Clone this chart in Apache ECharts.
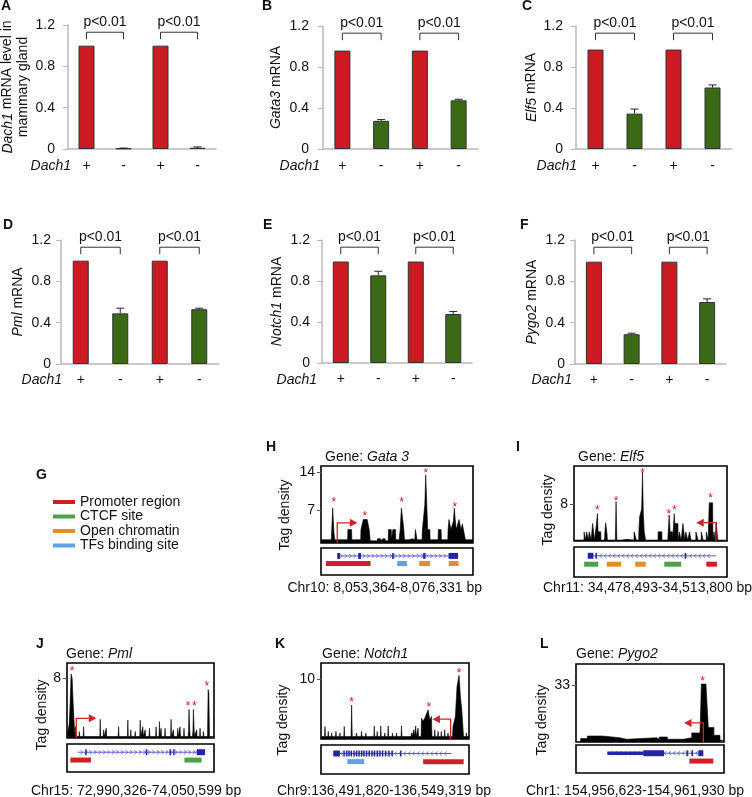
<!DOCTYPE html>
<html><head><meta charset="utf-8">
<script src="https://cdn.jsdelivr.net/npm/echarts@6/dist/echarts.min.js"></script>
<style>html,body{margin:0;padding:0;background:#fff}#c{width:752px;height:797px}</style>
</head><body><div id="c"></div>
<script>
// ---------------- DATA ----------------
const dachGroups = ['+', '-', '+', '-'];
const dach1Mrna = [1.0, 0.006, 1.0, 0.012];
const dach1Err = [0, 0.003, 0, 0.008];
const gata3Mrna = [0.96, 0.275, 0.96, 0.475];
const gata3Err = [0, 0.012, 0, 0.01];
const elf5Mrna = [0.97, 0.345, 0.97, 0.60];
const elf5Err = [0, 0.045, 0, 0.025];
const pmlMrna = [1.0, 0.49, 1.0, 0.53];
const pmlErr = [0, 0.05, 0, 0.01];
const notch1Mrna = [0.99, 0.855, 0.99, 0.478];
const notch1Err = [0, 0.04, 0, 0.025];
const pygo2Mrna = [0.99, 0.288, 0.99, 0.60];
const pygo2Err = [0, 0.01, 0, 0.03];
const sigPairs = [[0, 1], [2, 3]];
const sigLevel = 1.13;
const sigText = 'p<0.01';

const siteTypes = ['Promoter region', 'CTCF site', 'Open chromatin', 'TFs binding site'];

// positions are % of the displayed genomic window; values are tag density
const gata3Profile = [[0,1.6],[6.8,1.6],[7.7,7.4],[8.5,3.0],[9.0,1.6],[17.5,1.6],[17.7,3.46],[20.1,3.46],[20.3,1.6],[26.1,1.6],[26.3,3.46],[27.8,5.3],[28.9,5.3],[30.4,5.3],[31.7,3.46],[32.4,1.4],[37.0,1.4],[37.2,1.77],[39.2,1.77],[39.4,1.4],[40.5,1.4],[40.7,1.77],[42.2,1.77],[42.4,1.4],[44.2,1.4],[44.4,3.46],[46.2,3.46],[46.4,1.8],[47.3,3.46],[49.0,3.46],[49.2,1.6],[51.4,1.6],[52.1,3.46],[52.9,7.4],[53.8,7.4],[54.5,3.46],[54.9,1.6],[57.9,1.6],[58.1,1.77],[60.2,1.77],[60.4,1.6],[61.7,1.6],[62.1,3.46],[63.0,3.46],[63.2,1.6],[66.5,1.6],[66.7,3.46],[67.6,3.46],[68.3,8],[68.9,13.5],[69.6,8],[70.2,3.46],[71.6,3.46],[71.8,1.6],[77.0,1.6],[77.2,3.46],[79.0,3.46],[79.2,1.6],[83.4,1.6],[83.6,3.46],[84.2,5.3],[85.1,5.3],[85.5,3.46],[86.3,3.46],[87.1,5],[87.7,7.4],[88.4,5],[89.0,3.46],[90.3,3.46],[90.8,5.3],[91.5,5.3],[92.1,3.46],[93.0,4.5],[93.7,3.46],[94.7,3.46],[95.0,1.6],[100,1.6]];
const gata3Stars = [[8.5,8.9],[28.9,6.3],[53,8.75],[68.9,14.1],[88,8.0]];
const gata3Ticks = [7, 14];
const gata3Span = [[10.7, 90.2, 1]];
const gata3Exons = [[10.7,12.5],[24.5,26.3],[46.8,47.9],[67.2,68.7],[84.0,90.2]];
const gata3Utrs = [];
const gata3Sites = [[3.3,32.6,0],[50.1,56.5,3],[64.6,71.8,2],[84.0,90.6,2]];
const gata3Tss = [[10.7, 4.7, 23.9]];

const elf5Profile = [[0,0.2],[6.5,0.2],[6.6,2],[7.4,2],[7.5,0.2],[8.2,0.2],[8.3,2],[9.2,2],[9.3,0.2],[9.9,0.2],[10.0,2],[11.1,2],[11.2,0.2],[12.1,0.2],[12.2,3.85],[13.3,3.85],[13.4,0.2],[14.1,0.2],[14.6,3.5],[15.3,6.0],[15.7,2],[17.5,2],[17.6,0.2],[19.9,0.2],[20.3,2.5],[20.7,4.0],[21.6,1.5],[21.8,0.2],[27.0,0.2],[27.5,8.6],[28.0,0.2],[31.2,0.2],[31.3,0.36],[34.5,0.36],[34.6,0.2],[39.2,0.2],[39.3,2],[40.6,2],[40.7,0.2],[42.3,0.2],[42.4,2],[42.9,5.3],[43.8,5.3],[44.2,7],[44.8,15.1],[45.3,6],[45.9,2],[46.7,2],[46.8,0.2],[48.6,0.2],[48.7,0.36],[49.8,0.36],[49.9,0.2],[53.4,0.2],[53.5,0.36],[54.1,0.36],[54.9,0.2],[55.0,2],[57.4,2],[57.5,0.2],[61.3,0.2],[61.6,2],[62.2,5.7],[62.8,2],[64.4,2],[64.5,0.2],[64.8,2],[65.5,6.0],[65.9,3.85],[67.9,3.85],[68.0,0.2],[68.7,0.2],[68.8,2],[69.9,2],[70.0,0.2],[71.1,0.2],[71.2,3.85],[72.3,3.85],[72.4,0.2],[73.0,0.2],[73.1,2],[74.2,2],[74.3,0.2],[75.4,0.2],[75.5,2],[76.4,2],[76.5,0.2],[79.6,0.2],[79.7,2],[81.0,2],[81.1,0.2],[83.1,0.2],[83.2,2],[84.3,2],[84.4,0.2],[86.4,0.2],[86.5,2],[87.6,2],[87.7,0.2],[88.2,0.2],[88.4,8.35],[90.6,8.35],[90.8,0.2],[91.4,0.2],[91.5,2],[92.1,2],[92.2,0.2],[92.9,0.2],[93.0,4.2],[93.8,4.2],[93.9,0.2],[100,0.2]];
const elf5Stars = [[15.3,7.1],[27.5,9.15],[44.8,15.25],[62,6.4],[65.5,7.1],[89.3,9.9]];
const elf5Ticks = [8];
const elf5Span = [[9.0, 92.8, -1]];
const elf5Exons = [[9.0,12.7],[14.0,14.8],[72.3,73.1]];
const elf5Utrs = [];
const elf5Sites = [[6.6,15.9,1],[21.4,30.8,2],[40.0,46.9,2],[59.0,70.1,1],[86.5,93.4,0]];
const elf5Tss = [[92.8, 4.0, 79.9]];

const pmlProfile = [[0,0.2],[1.0,0.2],[1.6,2.0],[2.1,4.6],[2.8,8.6],[3.5,8.0],[4.2,4.6],[5.0,1.5],[5.4,0.2],[5.7,1.53],[6.1,0.2],[8.1,0.2],[8.4,0.87],[8.7,0.2],[11.0,0.2],[11.3,1.53],[11.6,0.2],[22.3,0.2],[22.6,2.5],[22.9,0.2],[24.6,0.2],[24.9,1.1],[25.2,0.2],[26.4,0.2],[26.7,1.3],[27.0,0.2],[34.8,0.2],[35.1,1.53],[35.4,0.2],[41.1,0.2],[41.4,2.4],[41.7,0.2],[43.1,0.2],[43.4,1.1],[43.7,0.2],[46.1,0.2],[46.4,0.87],[46.7,0.2],[49.5,0.2],[49.8,2.4],[50.1,0.2],[51.3,0.2],[51.6,1.5],[51.9,0.2],[52.9,0.2],[53.2,1.1],[53.5,0.2],[55.8,0.2],[56.1,1.3],[56.4,0.2],[60.3,0.2],[60.6,1.5],[60.9,0.2],[62.6,0.2],[62.9,2.2],[63.2,0.2],[63.7,0.2],[64.0,1.3],[64.3,0.2],[66.4,0.2],[66.7,1.3],[67.0,0.2],[70.5,0.2],[70.8,2.5],[71.1,0.2],[72.1,0.2],[72.4,1.1],[72.7,0.2],[75.0,0.2],[75.3,1.3],[75.6,0.2],[76.6,0.2],[76.9,1.5],[77.2,0.2],[79.3,0.2],[79.6,1.3],[79.9,0.2],[82.4,0.2],[82.7,1.0],[83.0,3.83],[83.5,1.0],[83.8,0.2],[85.4,0.2],[85.7,1.0],[86.0,3.83],[86.5,1.0],[86.8,0.2],[87.9,0.2],[88.2,1.1],[88.5,0.2],[90.2,0.2],[90.5,1.3],[90.8,0.2],[92.5,0.2],[92.8,0.87],[93.1,0.2],[95.6,0.2],[96.0,6.5],[96.5,6.0],[96.9,0.2],[100,0.2]];
const pmlStars = [[3.4,9.24],[82.4,4.49],[86.7,4.49],[95.2,7.26]];
const pmlTicks = [8];
const pmlSpan = [[7.2, 93.9, 1]];
const pmlExons = [[12.4,13.1],[53.6,54.3],[69.7,70.4],[72.2,72.9],[88.2,93.9]];
const pmlUtrs = [];
const pmlSites = [[2.3,16.3,0],[79.9,91.6,1]];
const pmlTss = [[6.3, 2.64, 19.9]];

const notch1Profile = [[0,0.4],[2.4,0.4],[2.7,2.1],[3.0,0.4],[4.6,0.4],[4.9,1.28],[5.2,0.4],[6.9,0.4],[7.2,1.0],[7.5,0.4],[9.8,0.4],[10.1,1.28],[10.4,0.4],[12.5,0.4],[12.8,1.0],[13.1,0.4],[15.4,0.4],[15.7,2.1],[16.0,0.4],[20.3,0.4],[20.7,5.7],[21.1,0.4],[23.7,0.4],[24.0,1.0],[24.3,0.4],[27.1,0.4],[27.4,1.28],[27.7,0.4],[30.0,0.4],[30.3,1.0],[30.6,0.4],[32.7,0.4],[33.0,0.72],[33.3,0.4],[35.7,0.4],[36.0,2.2],[36.3,0.4],[37.7,0.4],[38.0,1.28],[38.3,0.4],[40.1,0.4],[40.4,2.2],[40.7,0.4],[42.8,0.4],[43.1,1.0],[43.4,0.4],[45.1,0.4],[45.4,2.2],[45.7,0.4],[48.0,0.4],[48.3,1.0],[48.6,0.4],[50.7,0.4],[51.0,1.0],[51.3,0.4],[54.1,0.4],[54.4,2.2],[54.7,0.4],[57.5,0.4],[57.8,0.72],[58.1,0.4],[60.8,0.4],[61.1,1.0],[61.4,0.4],[62.4,0.4],[62.7,1.55],[63.0,0.4],[63.7,0.4],[64.0,2.2],[64.3,0.4],[65.3,0.4],[65.6,1.83],[65.9,0.4],[67.6,0.4],[67.9,3.5],[69.0,3.0],[70.1,3.5],[71.2,3.2],[72.4,4.9],[73.5,3.2],[74.6,3.8],[75.0,0.4],[76.6,0.4],[76.9,1.55],[77.2,0.4],[78.8,0.4],[79.1,1.28],[79.4,0.4],[81.0,0.4],[81.3,1.28],[81.6,0.4],[83.3,0.4],[83.6,1.55],[83.9,0.4],[85.5,0.4],[85.8,1.0],[86.1,0.4],[88.9,0.4],[89.2,2.1],[90.8,3.8],[91.9,8.8],[93.3,10.7],[94.2,7.1],[95.1,5.0],[96.0,1.55],[96.3,0.4],[97.9,0.4],[98.2,1.0],[98.5,0.4],[99.3,0.72],[100,0.4]];
const notch1Stars = [[20.7,6.55],[72.8,5.6],[93.3,11.4]];
const notch1Ticks = [10];
const notch1Span = [[8.3, 88.1, -1]];
const notch1Exons = [[8.3,12.8],[15.1,15.7],[16.9,17.5],[18.4,19.0],[20.0,20.6],[21.8,22.4],[23.6,24.2],[25.2,25.8],[27.0,27.6],[28.5,29.1],[30.3,30.9],[32.1,32.7],[33.9,34.5],[35.7,36.3],[37.5,38.1],[39.3,39.9],[41.1,41.7],[43.1,43.7],[45.4,46.0],[47.6,48.2],[53.3,53.9]];
const notch1Utrs = [];
const notch1Sites = [[17.8,29.2,3],[69.0,96.4,0]];
const notch1Tss = [[87.6, 3.33, 75.3]];

const pygo2Profile = [[0,0],[3.1,0],[3.2,2.0],[7.7,2.0],[7.7,3.5],[18.0,3.5],[18.0,2.5],[29.3,2.5],[29.3,1.6],[34.2,1.6],[34.2,2.5],[54.5,2.5],[54.5,1.6],[56.3,1.6],[56.3,2.9],[61.7,2.9],[61.7,1.6],[72.5,1.6],[72.5,2.5],[78.2,2.5],[78.2,5.3],[83.8,5.3],[84.7,33.8],[87.8,33.8],[89.4,8.5],[93.2,8.5],[93.2,3.9],[97.3,3.9],[97.3,1.0],[99.5,1.0],[99.5,0],[100,0]];
const pygo2Stars = [[85.6,36.5]];
const pygo2Ticks = [33];
const pygo2Span = [[21.2, 86.0, -1]];
const pygo2Exons = [[45.5,59.5],[74.6,75.2],[78.0,78.6],[82.7,86.0]];
const pygo2Utrs = [[21.2,45.5]];
const pygo2Sites = [[76.6,92.8,0]];
const pygo2Tss = [[86.0, 11.1, 73.0]];

// ---------------- STYLE / LAYOUT ----------------
const FONT = 'Liberation Sans, Arial, Helvetica, sans-serif';
const RED = '#cc1b22', GREEN = '#3a6a16', TXT = '#111';
const SITE_COLORS = ['#cf2027', '#4ea049', '#e38d2c', '#5ba2e8'];
const ARROW = '#d42027', STAR = '#d42027', EXON = '#2323a8', INTRON = '#5c5cd8';
const GENE_ROW = 2.12, SITE_ROW = 1.28;

const barPanels = [
  {key:'A', values:dach1Mrna, errors:dach1Err, yName:'{i|Dach1} mRNA level in\nmammary gland',
   grid:{left:68,top:25,width:148,height:124}, yMargin:13, xMargin:10, nameGap:36, letter:[1,6], dach:[71,166]},
  {key:'B', values:gata3Mrna, errors:gata3Err, yName:'{i|Gata3} mRNA',
   grid:{left:323,top:26,width:155,height:123}, yMargin:14, xMargin:10, nameGap:39, letter:[262,6], dach:[320,166]},
  {key:'C', values:elf5Mrna, errors:elf5Err, yName:'{i|Elf5} mRNA',
   grid:{left:576,top:26,width:156,height:123}, yMargin:13, xMargin:10, nameGap:35, letter:[522,6], dach:[577,166]},
  {key:'D', values:pmlMrna, errors:pmlErr, yName:'{i|Pml} mRNA',
   grid:{left:61,top:240,width:158,height:124}, yMargin:10, xMargin:9, nameGap:35, letter:[3,225], dach:[62,380]},
  {key:'E', values:notch1Mrna, errors:notch1Err, yName:'{i|Notch1} mRNA',
   grid:{left:322,top:240,width:150,height:123}, yMargin:12, xMargin:9, nameGap:37, letter:[263,225], dach:[317,380]},
  {key:'F', values:pygo2Mrna, errors:pygo2Err, yName:'{i|Pygo2} mRNA',
   grid:{left:575,top:240,width:151,height:124}, yMargin:10, xMargin:9, nameGap:35, letter:[520,225], dach:[572,380]}
];

const tracks = [
  {key:'H', gene:'Gata 3', chr:'Chr10: 8,053,364-8,076,331 bp', profile:gata3Profile, stars:gata3Stars, ticks:gata3Ticks,
   span:gata3Span, exons:gata3Exons, utrs:gata3Utrs, sites:gata3Sites, tss:gata3Tss, yMin:1.0, yMax:15.1,
   dens:{left:321,top:466,width:152,height:77}, box:{left:321,top:548,width:152,height:27},
   label:[285,515], title:[325,457], letter:[266,447], chrPos:[384.7,588], chrAlign:'center'},
  {key:'I', gene:'Elf5', chr:'Chr11: 34,478,493-34,513,800 bp', profile:elf5Profile, stars:elf5Stars, ticks:elf5Ticks,
   span:elf5Span, exons:elf5Exons, utrs:elf5Utrs, sites:elf5Sites, tss:elf5Tss, yMin:0, yMax:16.4,
   dens:{left:574,top:466,width:153,height:75}, box:{left:574,top:547,width:153,height:30},
   label:[548,510], title:[578,457], letter:[516,447], chrPos:[543,588], chrAlign:'left'},
  {key:'J', gene:'Pml', chr:'Chr15: 72,990,326-74,050,599 bp', profile:pmlProfile, stars:pmlStars, ticks:pmlTicks,
   span:pmlSpan, exons:pmlExons, utrs:pmlUtrs, sites:pmlSites, tss:pmlTss, yMin:0, yMax:10.06,
   dens:{left:67,top:663,width:147,height:75}, box:{left:67,top:744,width:147,height:28},
   label:[42,715], title:[66,654], letter:[36,644], chrPos:[31,791], chrAlign:'left'},
  {key:'K', gene:'Notch1', chr:'Chr9:136,491,820-136,549,319 bp', profile:notch1Profile, stars:notch1Stars, ticks:notch1Ticks,
   span:notch1Span, exons:notch1Exons, utrs:notch1Utrs, sites:notch1Sites, tss:notch1Tss, yMin:0, yMax:12.77,
   dens:{left:321,top:663,width:148,height:76}, box:{left:321,top:745,width:148,height:29},
   label:[283,720], title:[322,654], letter:[275,644], chrPos:[277,791], chrAlign:'left'},
  {key:'L', gene:'Pygo2', chr:'Chr1: 154,956,623-154,961,930 bp', profile:pygo2Profile, stars:pygo2Stars, ticks:pygo2Ticks,
   span:pygo2Span, exons:pygo2Exons, utrs:pygo2Utrs, sites:pygo2Sites, tss:pygo2Tss, yMin:0, yMax:45.5,
   dens:{left:576,top:664,width:148,height:78}, box:{left:576,top:745,width:148,height:28},
   label:[542,720], title:[576,654], letter:[540,644], chrPos:[526,791], chrAlign:'left'}
];

// ---------------- RENDERERS ----------------
function errorRender(params, api) {
  const e = api.value(2);
  if (!e) return null;
  const p0 = api.coord([api.value(0), api.value(1)]);
  const p1 = api.coord([api.value(0), api.value(1) + e]);
  return {type:'group', children:[
    {type:'line', shape:{x1:p0[0], y1:p0[1], x2:p1[0], y2:p1[1]}, style:{stroke:'#222', lineWidth:1}},
    {type:'line', shape:{x1:p1[0]-4, y1:p1[1], x2:p1[0]+4, y2:p1[1]}, style:{stroke:'#222', lineWidth:1}}
  ]};
}
function bracketRender(params, api) {
  const a = api.coord([api.value(0), api.value(2)]);
  const b = api.coord([api.value(1), api.value(2)]);
  return {type:'group', children:[
    {type:'polyline', shape:{points:[[a[0], a[1]+7], [a[0], a[1]], [b[0], b[1]], [b[0], b[1]+7]]},
     style:{stroke:'#333', lineWidth:1, fill:'none'}},
    {type:'text', x:(a[0]+b[0])/2, y:a[1]-10,
     style:{text:sigText, fontSize:14, fontFamily:FONT, fill:TXT, align:'center', verticalAlign:'middle'}}
  ]};
}
function starRender(params, api) {
  const p = api.coord([api.value(0), api.value(1)]);
  return {type:'text', x:p[0], y:p[1]+2.5,
    style:{text:'*', fontSize:12, fontFamily:FONT, fill:STAR, align:'center', verticalAlign:'middle'}};
}
function tssRender(params, api) {
  const cs = params.coordSys;
  const bottom = cs.y + cs.height;
  const a = api.coord([api.value(0), api.value(1)]);
  const tip = api.coord([api.value(2), api.value(1)]);
  const dir = tip[0] > a[0] ? 1 : -1;
  const hb = tip[0] - dir * 7.5;
  return {type:'group', children:[
    {type:'polyline', shape:{points:[[a[0], bottom], [a[0], a[1]], [hb, a[1]]]}, style:{stroke:ARROW, lineWidth:1.3, fill:'none'}},
    {type:'polygon', shape:{points:[[hb, a[1]-4], [tip[0], a[1]], [hb, a[1]+4]]}, style:{fill:ARROW}}
  ]};
}
function geneRender(params, api) {
  const s = api.coord([api.value(0), GENE_ROW]);
  const e = api.coord([api.value(1), GENE_ROW]);
  const dir = api.value(2);
  const y = s[1];
  const ch = [{type:'line', shape:{x1:s[0], y1:y, x2:e[0], y2:y}, style:{stroke:INTRON, lineWidth:1}}];
  for (let x = s[0] + 4; x < e[0] - 3; x += 4.5) {
    ch.push({type:'polyline', shape:{points:[[x - 1.2*dir, y-2], [x + 1.2*dir, y], [x - 1.2*dir, y+2]]},
      style:{stroke:INTRON, lineWidth:0.8, fill:'none'}});
  }
  return {type:'group', children:ch};
}
function blockRender(h) {
  return function (params, api) {
    const s = api.coord([api.value(0), GENE_ROW]);
    const e = api.coord([api.value(1), GENE_ROW]);
    return {type:'rect', shape:{x:s[0], y:s[1]-h/2, width:Math.max(e[0]-s[0], 1.5), height:h}, style:{fill:EXON}};
  };
}
function siteRender(params, api) {
  const s = api.coord([api.value(0), SITE_ROW]);
  const e = api.coord([api.value(1), SITE_ROW]);
  return {type:'rect', shape:{x:s[0], y:s[1]-2.5, width:e[0]-s[0], height:5}, style:{fill:api.visual('color')}};
}

// ---------------- BUILD ----------------
const grids = [], xAxes = [], yAxes = [], series = [], graphics = [];
function txt(x, y, text, o) {
  o = o || {};
  graphics.push({type:'text', x:x, y:y, rotation:o.rot || 0, silent:true,
    style:{text:text, fontSize:o.size || 14, fontFamily:FONT, fontWeight:o.weight || 'normal',
      fontStyle:o.style || 'normal', fill:TXT, align:o.align || 'left', verticalAlign:'middle',
      rich:{i:{fontStyle:'italic', fontSize:o.size || 14, fontFamily:FONT, fill:TXT}}}});
}

barPanels.forEach(function (p) {
  const gi = grids.length;
  grids.push(Object.assign({show:false, outerBoundsMode:'none', containLabel:false}, p.grid));
  xAxes.push({type:'category', gridIndex:gi, data:dachGroups, boundaryGap:true,
    axisLine:{lineStyle:{color:'#b8b8b8', width:1.5}}, axisTick:{show:false},
    axisLabel:{fontSize:14, fontFamily:FONT, color:TXT, margin:p.xMargin}});
  yAxes.push({type:'value', gridIndex:gi, min:0, max:1.2, interval:0.4, splitLine:{show:false},
    axisLine:{show:true, lineStyle:{color:'#b8b8b8', width:1.5}},
    axisTick:{show:true, length:5, lineStyle:{color:'#b8b8b8'}},
    axisLabel:{fontSize:14, fontFamily:FONT, color:TXT, margin:p.yMargin},
    name:p.yName, nameLocation:'middle', nameRotate:90, nameGap:p.nameGap,
    nameTextStyle:{fontSize:14, fontFamily:FONT, color:TXT, lineHeight:16,
      rich:{i:{fontStyle:'italic', fontSize:14, fontFamily:FONT, color:TXT, lineHeight:16}}}});
  series.push({type:'bar', xAxisIndex:gi, yAxisIndex:gi, barWidth:16, silent:true,
    itemStyle:{borderColor:'#333', borderWidth:1},
    data:p.values.map(function (v, i) { return {value:v, itemStyle:{color:dachGroups[i] === '+' ? RED : GREEN}}; })});
  series.push({type:'custom', xAxisIndex:gi, yAxisIndex:gi, clip:false, z:5, silent:true,
    data:p.values.map(function (v, i) { return [i, v, p.errors[i]]; }), renderItem:errorRender});
  series.push({type:'custom', xAxisIndex:gi, yAxisIndex:gi, clip:false, z:5, silent:true,
    data:sigPairs.map(function (pr) { return [pr[0], pr[1], sigLevel]; }), renderItem:bracketRender});
  txt(p.letter[0], p.letter[1], p.key, {weight:'bold'});
  txt(p.dach[0], p.dach[1], 'Dach1', {style:'italic', align:'right'});
});

tracks.forEach(function (t) {
  const gi = grids.length;
  grids.push(Object.assign({show:true, borderColor:'#000', borderWidth:1.6, backgroundColor:'#fff',
    outerBoundsMode:'none', containLabel:false}, t.dens));
  xAxes.push({type:'value', gridIndex:gi, min:0, max:100, show:false});
  yAxes.push({type:'value', gridIndex:gi, min:t.yMin, max:t.yMax, splitLine:{show:false},
    axisLine:{show:false},
    axisTick:{show:true, length:4, customValues:t.ticks, lineStyle:{color:'#555'}},
    axisLabel:{customValues:t.ticks, fontSize:14, fontFamily:FONT, color:TXT, margin:6}});
  series.push({type:'line', xAxisIndex:gi, yAxisIndex:gi, data:t.profile, symbol:'none', silent:true,
    lineStyle:{color:'#000', width:0.6}, areaStyle:{color:'#000', opacity:1, origin:'start'}});
  series.push({type:'custom', xAxisIndex:gi, yAxisIndex:gi, data:t.tss, renderItem:tssRender, clip:false, z:4, silent:true});
  series.push({type:'custom', xAxisIndex:gi, yAxisIndex:gi, data:t.stars, renderItem:starRender, clip:false, z:4, silent:true});

  const gj = grids.length;
  grids.push(Object.assign({show:true, borderColor:'#000', borderWidth:1.6, backgroundColor:'#fff',
    outerBoundsMode:'none', containLabel:false}, t.box));
  xAxes.push({type:'value', gridIndex:gj, min:0, max:100, show:false});
  yAxes.push({type:'value', gridIndex:gj, min:0, max:3, show:false});
  series.push({type:'custom', xAxisIndex:gj, yAxisIndex:gj, data:t.span, renderItem:geneRender, silent:true});
  series.push({type:'custom', xAxisIndex:gj, yAxisIndex:gj, data:t.exons, renderItem:blockRender(6), z:3, silent:true});
  if (t.utrs.length) series.push({type:'custom', xAxisIndex:gj, yAxisIndex:gj, data:t.utrs, renderItem:blockRender(3.5), z:3, silent:true});
  siteTypes.forEach(function (name, k) {
    const d = t.sites.filter(function (s) { return s[2] === k; });
    if (!d.length) return;
    series.push({type:'custom', name:name, xAxisIndex:gj, yAxisIndex:gj, data:d, renderItem:siteRender,
      itemStyle:{color:SITE_COLORS[k]}, silent:true});
  });

  txt(t.letter[0], t.letter[1], t.key, {weight:'bold'});
  txt(t.title[0], t.title[1], 'Gene: {i|' + t.gene + '}');
  txt(t.label[0], t.label[1], 'Tag density', {rot:Math.PI/2, align:'center'});
  txt(t.chrPos[0], t.chrPos[1], t.chr, {align:t.chrAlign});
});

txt(36, 475, 'G', {weight:'bold'});

const option = {
  animation:false,
  backgroundColor:'#fff',
  textStyle:{fontFamily:FONT},
  grid:grids, xAxis:xAxes, yAxis:yAxes, series:series,
  legend:{orient:'vertical', left:53, top:495, padding:0, icon:'rect', itemWidth:22, itemHeight:4, itemGap:0.5,
    selectedMode:false, data:siteTypes,
    textStyle:{fontSize:14, fontFamily:FONT, color:TXT, lineHeight:14}},
  graphic:graphics
};
const chart = echarts.init(document.getElementById('c'));
chart.setOption(option);
</script></body></html>
